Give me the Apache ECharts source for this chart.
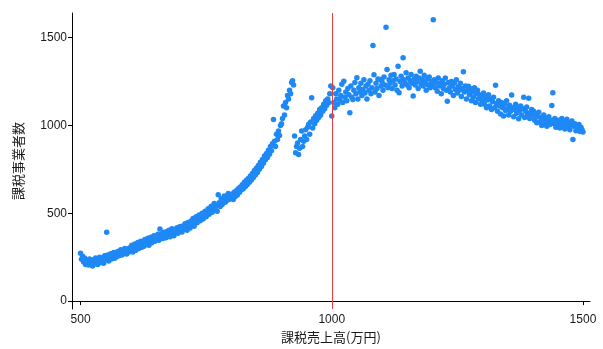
<!DOCTYPE html>
<html>
<head>
<meta charset="utf-8">
<script src="https://cdn.jsdelivr.net/npm/echarts@6/dist/echarts.min.js"></script>
<style>
  html, body { margin: 0; padding: 0; background: #fff; }
  #chart { width: 603px; height: 349px; }
</style>
</head>
<body>
<div id="chart"></div>
<script>
// 課税売上高 (x) sampled every 2 万円; each array holds 50 y values starting at its x start
const xStep = 2;
const sales500 = [272, 238, 255, 222, 245, 208, 232, 218, 205, 240, 215, 228, 200, 236, 212, 245, 222, 208, 238, 250,
  220, 246, 232, 215, 258, 238, 392, 262, 228, 248, 270, 240, 258, 276, 244, 266, 252, 282, 258, 270,
  292, 262, 286, 270, 300, 278, 268, 296, 280, 304];
const sales600 = [294, 318, 280, 306, 325, 290, 312, 334, 300, 322, 340, 306, 330, 312, 350, 322, 338, 358, 318, 346,
  364, 332, 352, 372, 340, 362, 350, 380, 346, 410, 368, 384, 356, 392, 372, 360, 396, 378, 404, 366,
  392, 412, 382, 372, 406, 392, 418, 386, 400, 424];
const sales700 = [412, 394, 428, 408, 440, 420, 404, 448, 430, 416, 456, 438, 470, 426, 452, 480, 446, 464, 490, 458,
  476, 500, 468, 488, 512, 480, 504, 526, 494, 516, 540, 506, 530, 556, 520, 544, 512, 606, 560, 538,
  582, 550, 572, 598, 562, 590, 574, 612, 580, 604];
const sales800 = [592, 610, 578, 620, 596, 628, 604, 640, 618, 650, 632, 662, 640, 676, 652, 688, 664, 698, 676, 712,
  690, 726, 704, 744, 718, 756, 732, 772, 750, 790, 766, 806, 784, 826, 804, 840, 818, 858, 836, 880,
  856, 896, 1034, 910, 880, 950, 920, 968, 942, 1000];
const sales900 = [1010, 1040, 1110, 1060, 1130, 1100, 1170, 1150, 1200, 1180, 1245, 1255, 1230, 940, 845, 880, 900, 835, 870, 920,
  968, 880, 910, 940, 975, 920, 990, 1006, 950, 1020, 1157, 985, 1040, 1010, 1055, 1030, 1070, 1045, 1090, 1060,
  1100, 1080, 1120, 1095, 1140, 1115, 1150, 1130, 1180, 1225];
const sales1000 = [1053, 1214, 1130, 1100, 1180, 1150, 1120, 1200, 1148, 1170, 1235, 1130, 1252, 1160, 1190, 1140, 1210, 1175, 1072, 1225,
  1160, 1148, 1200, 1245, 1180, 1271, 1150, 1215, 1190, 1240, 1170, 1205, 1260, 1185, 1225, 1150, 1235, 1200, 1255, 1180,
  1215, 1455, 1288, 1190, 1240, 1210, 1265, 1170, 1261, 1225];
const sales1100 = [1250, 1200, 1275, 1230, 1559, 1318, 1215, 1260, 1240, 1285, 1210, 1255, 1290, 1230, 1265, 1200, 1337, 1186, 1250, 1280,
  1225, 1385, 1260, 1240, 1300, 1230, 1270, 1215, 1255, 1290, 1240, 1167, 1265, 1230, 1280, 1250, 1210, 1270, 1309, 1235,
  1260, 1225, 1285, 1245, 1200, 1265, 1230, 1275, 1215, 1250];
const sales1200 = [1230, 1602, 1260, 1215, 1245, 1195, 1270, 1225, 1240, 1180, 1255, 1210, 1235, 1270, 1200, 1138, 1245, 1215, 1190, 1250,
  1225, 1170, 1240, 1205, 1260, 1185, 1220, 1200, 1240, 1165, 1210, 1305, 1190, 1225, 1150, 1200, 1223, 1175, 1210, 1140,
  1190, 1160, 1215, 1130, 1180, 1200, 1150, 1175, 1120, 1165];
const sales1300 = [1140, 1185, 1120, 1160, 1100, 1145, 1175, 1110, 1150, 1090, 1135, 1160, 1100, 1229, 1125, 1080, 1140, 1110, 1065, 1130,
  1100, 1053, 1120, 1085, 1140, 1095, 1060, 1115, 1080, 1173, 1100, 1050, 1090, 1120, 1070, 1105, 1038, 1085, 1110, 1060,
  1095, 1161, 1045, 1080, 1105, 1060, 1155, 1040, 1075, 1090];
const sales1400 = [1055, 1080, 1030, 1065, 1015, 1050, 1075, 1020, 1045, 1000, 1035, 1060, 1010, 1040, 995, 1025, 1050, 1005, 1030, 1114,
  1186, 1010, 1040, 990, 1025, 1000, 1030, 985, 1015, 1040, 995, 1020, 980, 1010, 1035, 990, 1015, 975, 1005, 1025,
  920, 995, 1010, 970, 1000, 980, 1005, 965, 990, 975, 962];

const segmentStarts = [500, 600, 700, 800, 900, 1000, 1100, 1200, 1300, 1400];
const segments = [sales500, sales600, sales700, sales800, sales900, sales1000, sales1100, sales1200, sales1300, sales1400];
const xTicks = [500, 1000, 1500];
const yTicks = [0, 500, 1000, 1500];
const threshold = 1000;

const points = [];
segments.forEach((seg, s) => {
  seg.forEach((y, i) => points.push([segmentStarts[s] + i * xStep, y]));
});

const chart = echarts.init(document.getElementById('chart'), null, { renderer: 'canvas' });
const textFont = "'Liberation Sans', 'Noto Sans CJK JP', sans-serif";
const plain = v => String(v);

chart.setOption({
  animation: false,
  grid: { left: 72, right: 13, top: 13, bottom: 39 },
  xAxis: {
    type: 'value',
    min: 483,
    max: 1514,
    name: '課税売上高(万円)',
    nameLocation: 'middle',
    nameGap: 22,
    nameTextStyle: { color: '#1a1a1a', fontSize: 13, fontFamily: "'Noto Sans CJK JP', sans-serif" },
    axisLine: { show: true, lineStyle: { color: '#000', width: 1 } },
    axisTick: { show: true, customValues: xTicks, length: 4, lineStyle: { color: '#000' } },
    axisLabel: { customValues: xTicks, formatter: plain, color: '#1a1a1a', fontSize: 12, fontFamily: textFont, margin: 5 },
    splitLine: { show: false }
  },
  yAxis: {
    type: 'value',
    min: -45,
    max: 1640,
    name: '課税事業者数',
    nameLocation: 'middle',
    nameGap: 47,
    nameTextStyle: { color: '#1a1a1a', fontSize: 13, fontFamily: "'Noto Sans CJK JP', sans-serif" },
    axisLine: { show: true, lineStyle: { color: '#000', width: 1 } },
    axisTick: { show: true, customValues: yTicks, length: 4, lineStyle: { color: '#000' } },
    axisLabel: { customValues: yTicks, formatter: plain, color: '#1a1a1a', fontSize: 12, fontFamily: textFont, margin: 5 },
    splitLine: { show: false }
  },
  series: [
    {
      type: 'scatter',
      data: points,
      symbolSize: 5.5,
      itemStyle: { color: '#1E88F5', opacity: 1 },
      markLine: {
        silent: true,
        symbol: 'none',
        label: { show: false },
        lineStyle: { color: '#F0393B', type: 'solid', width: 1 },
        data: [{ xAxis: threshold }]
      },
      z: 2
    }
  ]
});
</script>
</body>
</html>
